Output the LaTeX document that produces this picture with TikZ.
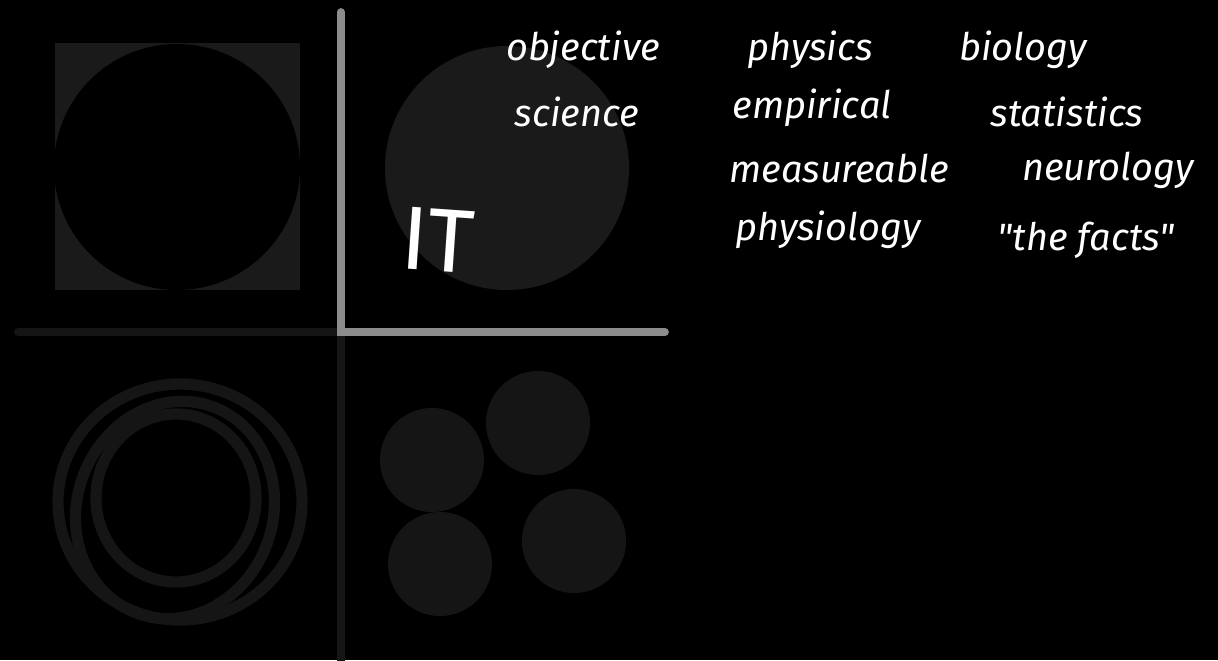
\documentclass[tikz,border=0pt]{standalone}
\usepackage{fontspec}
\setmainfont{Fira Sans}[Ligatures=TeXOff]
\usepackage{xcolor}
\usetikzlibrary{positioning}
\definecolor{QuadGray}{HTML}{8C8C8C}
\definecolor{DimGray}{HTML}{151515}
\definecolor{SoftGray}{HTML}{1A1A1A}

\begin{document}
\begin{tikzpicture}[
    x=0.025cm, y=-0.025cm,
    word/.style={text=white, font=\fontsize{27}{29}\selectfont\itshape, inner sep=0pt},
    axis/.style={line width=5.5pt, draw=QuadGray, line cap=round},
    dimaxis/.style={line width=5.5pt, draw=DimGray, line cap=round},
    ring/.style={draw=DimGray, line width=8pt},
    blob/.style={circle, fill=DimGray, minimum size=74pt, inner sep=0pt}
  ]
    \fill[black] (0,0) rectangle (1218,660);
    \useasboundingbox (0,0) rectangle (1218,660);

    % quadrant axes
    \coordinate (top) at (341,12);
    \coordinate (origin) at (341,332);
    \coordinate (right) at (665,332);
    \coordinate (left) at (18,332);
    \coordinate (bottom) at (341,668);
    \draw[dimaxis] (left) -- (origin);
    \draw[dimaxis] (origin) -- (bottom);
    \draw[axis] (top) -- (origin) -- (right);

    % upper left: square with hole
    \fill[SoftGray] (55,43) rectangle (300,290);
    \fill[black] (177,167) circle (123);

    % upper right: disc
    \fill[SoftGray] (507,168) circle (122);
    \node[text=white, font=\fontsize{64}{64}\selectfont, rotate=-4] (it) at (438,240) {IT};

    % lower left: scribbled rings
    \draw[ring] (180,502) ellipse (122 and 118);
    \draw[ring, rotate around={-20:(175,510)}] (175,510) ellipse (98 and 110);
    \draw[ring] (176,498) ellipse (80 and 84);

    % lower right: four discs
    \node[blob] (b1) at (432,460) {};
    \node[blob] (b2) at (538,423) {};
    \node[blob] (b3) at (440,564) {};
    \node[blob] (b4) at (574,541) {};

    % word list
    \node[word] (objective) at (583,50) {objective};
    \node[word] (physics) at (810,50) {physics};
    \node[word] (biology) at (1023,50) {biology};
    \node[word] (science) at (577,112) {science};
    \node[word] (empirical) at (812,108) {empirical};
    \node[word] (statistics) at (1067,112) {statistics};
    \node[word] (measureable) at (839,168) {measureable};
    \node[word] (neurology) at (1108,170) {neurology};
    \node[word] (physiology) at (828,230) {physiology};
    \node[word] (facts) at (1086,240) {"the facts"};
\end{tikzpicture}
\end{document}
